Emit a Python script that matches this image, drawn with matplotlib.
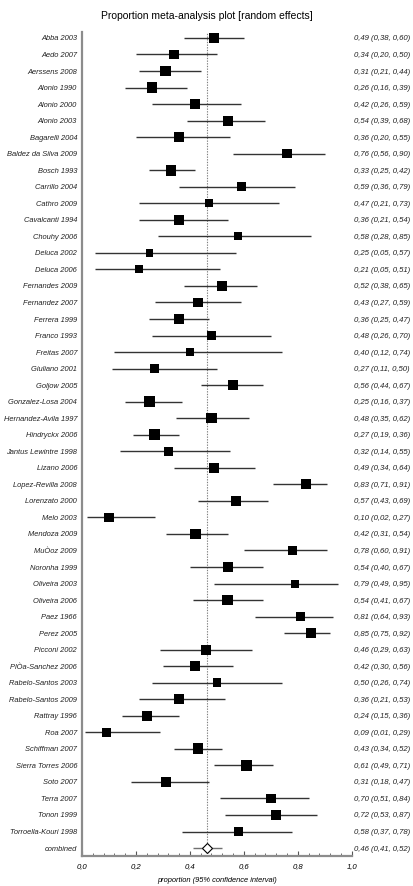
# Proportion meta-analysis forest plot (random effects)

import numpy as np
import matplotlib
matplotlib.use("Agg")
from matplotlib import pyplot as plt
from matplotlib import transforms
from matplotlib.ticker import MultipleLocator, FuncFormatter

studies = [
    "Abba 2003", "Aedo 2007", "Aerssens 2008", "Alonio 1990", "Alonio 2000",
    "Alonio 2003", "Bagarelli 2004", "Baldez da Silva 2009", "Bosch 1993",
    "Carrillo 2004", "Cathro 2009", "Cavalcanti 1994", "Chouhy 2006",
    "Deluca 2002", "Deluca 2006", "Fernandes 2009", "Fernandez 2007",
    "Ferrera 1999", "Franco 1993", "Freitas 2007", "Giuliano 2001",
    "Goljow 2005", "Gonzalez-Losa 2004", "Hernandez-Avila 1997",
    "Hindryckx 2006", "Jantus Lewintre 1998", "Lizano 2006",
    "Lopez-Revilla 2008", "Lorenzato 2000", "Melo 2003", "Mendoza 2009",
    "MuÒoz 2009", "Noronha 1999", "Oliveira 2003", "Oliveira 2006",
    "Paez 1966", "Perez 2005", "Picconi 2002", "PlÒa-Sanchez 2006",
    "Rabelo-Santos 2003", "Rabelo-Santos 2009", "Rattray 1996", "Roa 2007",
    "Schiffman 2007", "Sierra Torres 2006", "Soto 2007", "Terra 2007",
    "Tonon 1999", "Torroella-Kouri 1998",
]
proportion = [
    0.49, 0.34, 0.31, 0.26, 0.42, 0.54, 0.36, 0.76, 0.33, 0.59,
    0.47, 0.36, 0.58, 0.25, 0.21, 0.52, 0.43, 0.36, 0.48, 0.40,
    0.27, 0.56, 0.25, 0.48, 0.27, 0.32, 0.49, 0.83, 0.57, 0.10,
    0.42, 0.78, 0.54, 0.79, 0.54, 0.81, 0.85, 0.46, 0.42, 0.50,
    0.36, 0.24, 0.09, 0.43, 0.61, 0.31, 0.70, 0.72, 0.58,
]
ci_low = [
    0.38, 0.20, 0.21, 0.16, 0.26, 0.39, 0.20, 0.56, 0.25, 0.36,
    0.21, 0.21, 0.28, 0.05, 0.05, 0.38, 0.27, 0.25, 0.26, 0.12,
    0.11, 0.44, 0.16, 0.35, 0.19, 0.14, 0.34, 0.71, 0.43, 0.02,
    0.31, 0.60, 0.40, 0.49, 0.41, 0.64, 0.75, 0.29, 0.30, 0.26,
    0.21, 0.15, 0.01, 0.34, 0.49, 0.18, 0.51, 0.53, 0.37,
]
ci_high = [
    0.60, 0.50, 0.44, 0.39, 0.59, 0.68, 0.55, 0.90, 0.42, 0.79,
    0.73, 0.54, 0.85, 0.57, 0.51, 0.65, 0.59, 0.47, 0.70, 0.74,
    0.50, 0.67, 0.37, 0.62, 0.36, 0.55, 0.64, 0.91, 0.69, 0.27,
    0.54, 0.91, 0.67, 0.95, 0.67, 0.93, 0.92, 0.63, 0.56, 0.74,
    0.53, 0.36, 0.29, 0.52, 0.71, 0.47, 0.84, 0.87, 0.78,
]

pooled_label = "combined"
pooled = 0.464
pooled_low = 0.41
pooled_high = 0.52

title = "Proportion meta-analysis plot [random effects]"
x_title = "proportion (95% confidence interval)"

FONT = "Liberation Sans"
plt.rcParams["font.family"] = [FONT, "DejaVu Sans"]


def fmt(v):
    return f"{v:.2f}".replace(".", ",")


def box_sides(p, lo, hi, tau2=0.02, biggest=7.8):
    # rough study size from the CI, random effects weight -> box area
    p = np.asarray(p)
    width = np.asarray(hi) - np.asarray(lo)
    n_est = p * (1 - p) * (3.92 / width) ** 2
    w = 1 / (1 / (4 * n_est) + tau2)
    return biggest * np.sqrt(w / w.max())


n = len(studies)
rows = np.arange(n)

fig = plt.figure(figsize=(4.13, 8.87), dpi=100)
ax = fig.add_axes([82 / 413, 30 / 887, 269.7 / 413, 824 / 887])

ax.axvline(pooled, color="#808080", lw=0.8, ls=(0, (1.2, 1.2)), zorder=0)

ax.hlines(rows, ci_low, ci_high, color="#333333", lw=1.0, zorder=1)
sides = box_sides(proportion, ci_low, ci_high)
ax.scatter(proportion, rows, s=sides ** 2, marker="s", color="black",
           linewidths=0, zorder=3)

ax.hlines(n, pooled_low, pooled_high, color="#707070", lw=1.0, zorder=1)
ax.plot(pooled, n, marker="D", ms=4.8, mfc="white", mec="black", mew=0.8,
        zorder=3)

ax.set_xlim(0, 1)
ax.set_ylim(n + 0.48, -0.36)
ax.set_yticks([])
ax.xaxis.set_major_locator(MultipleLocator(0.2))
ax.xaxis.set_minor_locator(MultipleLocator(0.04))
ax.xaxis.set_major_formatter(FuncFormatter(lambda v, p: f"{v:.1f}".replace(".", ",")))
ax.tick_params(axis="x", which="major", direction="in", length=3.5, width=0.8,
               color="#555555", pad=4.5, labelsize=5.6)
ax.tick_params(axis="x", which="minor", direction="in", length=2, width=0.6,
               color="#555555")
for lab in ax.get_xticklabels():
    lab.set_fontstyle("italic")

for side in ["top", "right"]:
    ax.spines[side].set_visible(False)
for side in ["left", "bottom"]:
    ax.spines[side].set_color("#8c8c8c")
    ax.spines[side].set_linewidth(1.6)

# study names on the left, estimates on the right
trans = transforms.blended_transform_factory(ax.transAxes, ax.transData)
names = studies + [pooled_label]
texts = [f"{fmt(p)} ({fmt(l)}, {fmt(h)})" for p, l, h in zip(proportion, ci_low, ci_high)]
texts.append(f"{fmt(pooled)} ({fmt(pooled_low)}, {fmt(pooled_high)})")
for i, (name, txt) in enumerate(zip(names, texts)):
    ax.text(-0.0185, i, name, transform=trans, ha="right", va="center",
            fontsize=5.4, style="italic", color="#222222")
    ax.text(1.0085, i, txt, transform=trans, ha="left", va="center",
            fontsize=5.6, style="italic", color="#222222")

ax.set_xlabel(x_title, fontsize=5.4, style="italic", labelpad=5)
fig.text(0.5, 1 - 16 / 887, title, ha="center", va="center", fontsize=7.5)

fig.savefig("out.png", dpi=100)
